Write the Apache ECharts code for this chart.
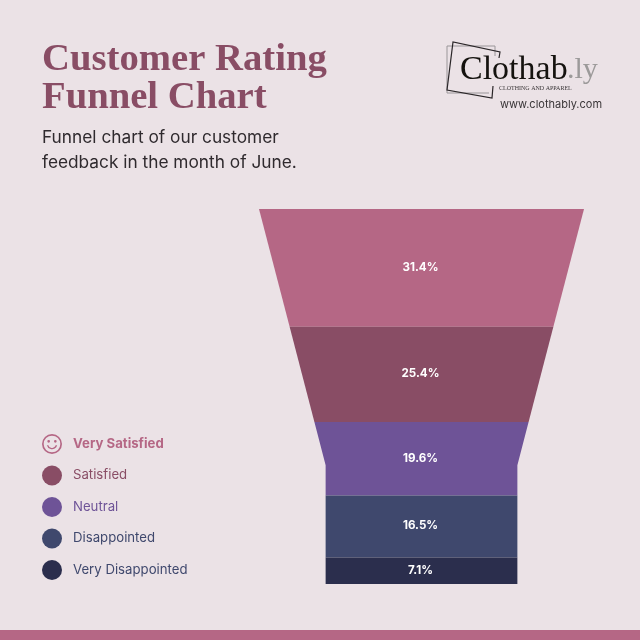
<!DOCTYPE html>
<html>
<head>
<meta charset="utf-8">
<style>html,body{margin:0;padding:0;background:#ebe2e6}#c{width:640px;height:640px}</style>
<script src="https://cdn.jsdelivr.net/npm/echarts@6/dist/echarts.min.js"></script>
</head>
<body>
<div id="c"></div>
<script>
const categories = ['Very Satisfied', 'Satisfied', 'Neutral', 'Disappointed', 'Very Disappointed'];
const shares = [31.4, 25.4, 19.6, 16.5, 7.1];
const colors = ['#b56785', '#894d65', '#6e5397', '#3f486d', '#2b2e4d'];
const legendTextColors = ['#b56785', '#894d65', '#6e5397', '#3f486d', '#3f486d'];
const funnelTopWidth = 100;
const funnelNeckWidth = 59;
const funnelNeckShare = 68.3;

const smiley = 'path://M12 0A12 12 0 1 1 12 24A12 12 0 1 1 12 0Z' +
  'M12 2A10 10 0 1 0 12 22A10 10 0 1 0 12 2Z' +
  'M8 7.2A1.6 1.6 0 1 1 8 10.4A1.6 1.6 0 1 1 8 7.2Z' +
  'M16 7.2A1.6 1.6 0 1 1 16 10.4A1.6 1.6 0 1 1 16 7.2Z' +
  'M5.8 13.4L7.6 13.4A4.6 4.6 0 0 0 16.4 13.4L18.2 13.4A6.4 6.4 0 0 1 5.8 13.4Z';

function widthAt(s) {
  const w = funnelTopWidth - (funnelTopWidth - funnelNeckWidth) * s / funnelNeckShare;
  return Math.max(funnelNeckWidth, w);
}

let running = 0;
const series = categories.map((name, i) => {
  const start = running;
  running += shares[i];
  const end = running;
  return {
    type: 'custom',
    name,
    coordinateSystem: 'cartesian2d',
    clip: false,
    itemStyle: { color: colors[i] },
    encode: { x: 0, y: [1, 2] },
    data: [[0, start, end, shares[i]]],
    renderItem(params, api) {
      const a = api.value(1), b = api.value(2);
      const stops = [a];
      if (a < funnelNeckShare && funnelNeckShare < b) stops.push(funnelNeckShare);
      stops.push(b);
      const right = stops.map(s => api.coord([widthAt(s) / 2, s]));
      const left = stops.slice().reverse().map(s => api.coord([-widthAt(s) / 2, s]));
      const mid = api.coord([0, (a + b) / 2]);
      return {
        type: 'group',
        children: [
          { type: 'polygon', shape: { points: right.concat(left) }, style: { fill: colors[i] } },
          { type: 'text', x: mid[0] - 1, y: mid[1] - 0.5, style: {
              text: api.value(3).toFixed(1) + '%', fill: '#ffffff', align: 'center', verticalAlign: 'middle',
              font: '700 11.6px Inter' } }
        ]
      };
    }
  };
});

const bg = '#ebe2e6';
const chart = echarts.init(document.getElementById('c'), null, { renderer: 'canvas', width: 640, height: 640 });
chart.setOption({
  backgroundColor: bg,
  animation: false,
  grid: { left: 259, top: 209, width: 325, height: 375 },
  xAxis: { type: 'value', min: -50, max: 50, show: false },
  yAxis: { type: 'value', min: 0, max: 100, inverse: true, show: false },
  title: [
    { text: 'Customer Rating\nFunnel Chart', left: 37, top: 36,
      textStyle: { fontFamily: 'Liberation Serif', fontWeight: 700, fontSize: 38.7, lineHeight: 38, color: '#894d65' } },
    { text: 'Funnel chart of our customer\nfeedback in the month of June.', left: 37, top: 120,
      textStyle: { fontFamily: 'Inter', fontWeight: 400, fontSize: 17.3, lineHeight: 25, color: '#2f2a2e' } }
  ],
  legend: {
    orient: 'vertical', left: 37, top: 429, itemWidth: 32, itemHeight: 20, itemGap: 11.5,
    selectedMode: false,
    data: categories.map((name, i) => ({
      name,
      icon: i === 0 ? smiley : 'circle',
      textStyle: { color: legendTextColors[i], fontFamily: 'Inter', fontSize: 13.2, fontWeight: i === 0 ? 700 : 400 }
    }))
  },
  series,
  graphic: [
    { type: 'rect', left: 0, top: 630, shape: { width: 640, height: 10 }, style: { fill: '#b56785' } },
    { type: 'polyline', shape: { points: [[457, 46], [447, 46], [447, 93], [489, 93]] }, style: { fill: 'none', stroke: '#9a9699', lineWidth: 1 } },
    { type: 'polyline', shape: { points: [[495, 56], [495, 46], [457, 46]] }, style: { fill: 'none', stroke: '#9a9699', lineWidth: 1 } },
    { type: 'polyline', shape: { points: [[499, 58], [500, 52], [453, 42], [447, 90], [492, 98], [493, 86]] }, style: { fill: 'none', stroke: '#2a2628', lineWidth: 1.2 } },
    { type: 'text', left: 460, top: 53, style: { text: 'Clothab', font: '400 34px "Liberation Serif"', fill: '#15130f' } },
    { type: 'text', left: 567, top: 55, style: { text: '.ly', font: '400 30px "Liberation Serif"', fill: '#9c9a9a' } },
    { type: 'text', left: 499, top: 85, style: { text: 'CLOTHING AND APPAREL', font: '400 6px "Liberation Serif"', fill: '#3a3638' } },
    { type: 'text', left: 500, top: 99, style: { text: 'www.clothably.com', font: '400 11px Inter', fill: '#3a3638' } }
  ]
});
</script>
</body>
</html>
